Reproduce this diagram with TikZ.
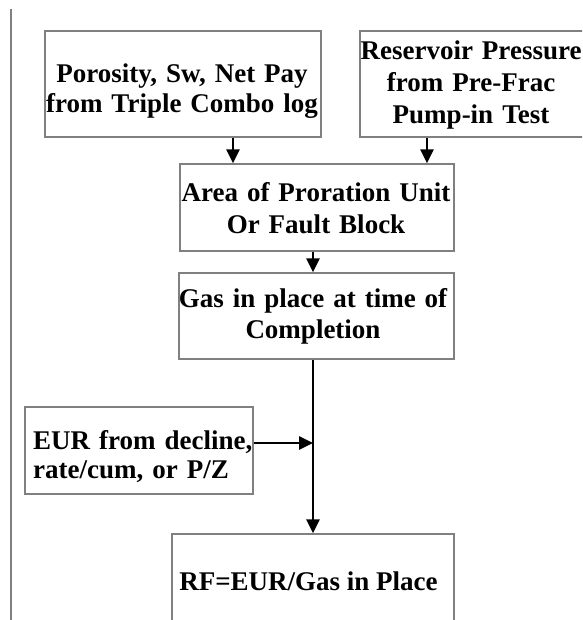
\documentclass[tikz,border=0pt]{standalone}
\usepackage{fontspec}
\setmainfont{Liberation Serif}
\usetikzlibrary{arrows.meta}
\definecolor{boxgray}{RGB}{128,128,128}
\begin{document}
\begin{tikzpicture}[x=1pt,y=-1pt,
  box/.style={draw=boxgray, line width=1.2pt, inner sep=0pt, fill=white},
  txt/.style={inner sep=0pt, anchor=base, align=center, text width=#1},
  arr/.style={line width=2.6pt, -{Triangle[length=14pt,width=13pt]}},
  fs/.style={font=\fontsize{27}{#1}\selectfont\bfseries}
]
\useasboundingbox (0,0) rectangle (582,620);
\clip (0,0) rectangle (582,620);
\draw[boxgray, line width=1.2pt] (11,9) -- (11,625);

% boxes
\node[box, minimum width=276pt, minimum height=106pt] (b1) at (183,84) {};
\node[box, minimum width=224pt, minimum height=106pt] (b2) at (472,84) {};
\node[box, minimum width=274pt, minimum height=87pt] (b3) at (317,207.5) {};
\node[box, minimum width=275pt, minimum height=86pt] (b4) at (316.5,316) {};
\node[box, minimum width=228pt, minimum height=87pt] (b5) at (139,450.5) {};
\node[box, minimum width=282pt, minimum height=106pt] (b6) at (313,587) {};

% texts
\node[txt=300pt, fs=30] (t1) at (182,83) {Porosity, Sw, Net Pay\\from Triple Combo log};
\node[txt=230pt, fs=32] (t2) at (471,60) {Reservoir Pressure\\from Pre-Frac\\Pump-in Test};
\node[txt=290pt, fs=32] (t3) at (316,202) {Area of Proration Unit\\Or Fault Block};
\node[txt=290pt, fs=31] (t4) at (313,307) {Gas in place at time of\\Completion};
\node[inner sep=0pt, anchor=base west, align=left, text width=220pt, fs=29] (t5) at (33,449) {EUR from decline,\\rate/cum, or P/Z};
\node[inner sep=0pt, anchor=base, fs=30] (t6) at (308.5,590) {RF=EUR/Gas in Place};

% connector helpers
\coordinate (c1) at (233,0);
\coordinate (c2) at (427,0);
\coordinate (c3) at (313,0);
\coordinate (c4) at (0,443);

\draw[arr] (b1.south -| c1) -- (b3.north -| c1);
\draw[arr] (b2.south -| c2) -- (b3.north -| c2);
\draw[arr] (b3.south -| c3) -- (b4.north -| c3);
\draw[arr] (b4.south -| c3) -- (b6.north -| c3);
\draw[arr] (b5.east |- c4) -- (c3 |- c4);
\end{tikzpicture}
\end{document}
